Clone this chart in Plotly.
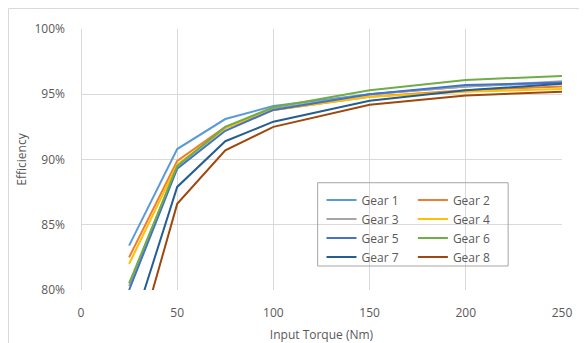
import plotly.graph_objects as go

torque = [25, 50, 75, 100, 150, 200, 250]
gear_names = ["Gear 1", "Gear 2", "Gear 3", "Gear 4", "Gear 5", "Gear 6", "Gear 7", "Gear 8"]
gear1 = [0.834, 0.908, 0.931, 0.941, 0.950, 0.956, 0.959]
gear2 = [0.825, 0.899, 0.925, 0.938, 0.948, 0.953, 0.956]
gear3 = [0.803, 0.895, 0.924, 0.939, 0.950, 0.956, 0.960]
gear4 = [0.820, 0.896, 0.924, 0.938, 0.948, 0.952, 0.954]
gear5 = [0.800, 0.893, 0.922, 0.938, 0.950, 0.957, 0.959]
gear6 = [0.805, 0.895, 0.925, 0.940, 0.953, 0.961, 0.964]
gear7 = [0.763, 0.879, 0.914, 0.929, 0.945, 0.953, 0.958]
gear8 = [0.736, 0.866, 0.907, 0.925, 0.942, 0.949, 0.952]
series = [gear1, gear2, gear3, gear4, gear5, gear6, gear7, gear8]
colors = ["#5B9BD5", "#ED7D31", "#A5A5A5", "#FFC000", "#4472C4", "#70AD47", "#255E91", "#9E480E"]

fig = go.Figure()
for i, (name, vals) in enumerate(zip(gear_names, series)):
    fig.add_trace(go.Scatter(
        x=torque, y=vals, name=name, mode="lines",
        line=dict(color=colors[i], width=2),
        legend="legend" if i % 2 == 0 else "legend2",
    ))

font = dict(family="Open Sans, Noto Sans, sans-serif", size=12, color="#595959")
legfont = dict(family="Open Sans, Noto Sans, sans-serif", size=12, color="#595959")

fig.update_layout(
    width=587, height=343,
    margin=dict(l=73, r=33, t=21, b=61, autoexpand=False),
    paper_bgcolor="white", plot_bgcolor="white",
    font=font,
    legend=dict(x=0.50, y=0.40, xanchor="left", yanchor="top", bgcolor="rgba(0,0,0,0)",
                font=legfont, tracegroupgap=0, itemwidth=30),
    legend2=dict(x=0.69, y=0.40, xanchor="left", yanchor="top", bgcolor="rgba(0,0,0,0)",
                 font=legfont, tracegroupgap=0, itemwidth=30),
    xaxis=dict(range=[0, 250], dtick=50, tick0=0, showgrid=True, gridcolor="#D9D9D9",
               zeroline=True, zerolinecolor="#D9D9D9", zerolinewidth=1, showline=False,
               ticks="", tickfont=font, automargin=False, ticklabelstandoff=14,
               title=dict(text="Input Torque (Nm)", font=font, standoff=10)),
    yaxis=dict(range=[0.80, 1.00], dtick=0.05, tick0=0.80, tickformat=".0%",
               showgrid=True, gridcolor="#D9D9D9", zeroline=False, showline=False,
               ticks="", tickfont=font, ticklabelstandoff=15, automargin=False,
               title=dict(text="Efficiency", font=font, standoff=5)),
    shapes=[
        dict(type="rect", xref="paper", yref="paper", x0=0.492, x1=0.888, y0=0.092, y1=0.411,
             line=dict(color="#A6A6A6", width=1), fillcolor="rgba(0,0,0,0)"),
        dict(type="rect", xref="paper", yref="paper", x0=-72.5/481, x1=1.2, y0=-0.3, y1=1 + 20.5/261,
             line=dict(color="#D9D9D9", width=1), fillcolor="rgba(0,0,0,0)", layer="below"),
    ],
)
fig.write_html("out.html")
